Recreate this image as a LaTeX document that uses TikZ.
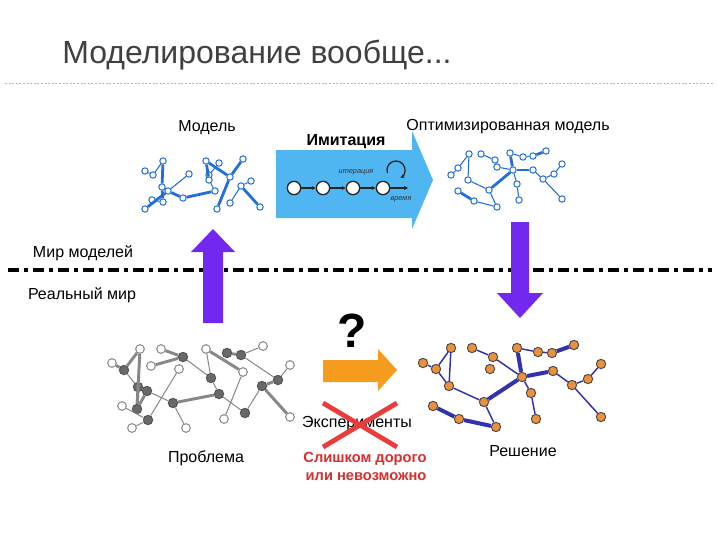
\documentclass[tikz,border=0pt]{standalone}
\usepackage{fontspec}
\setmainfont{Liberation Sans}
\usetikzlibrary{arrows.meta}
\definecolor{mblue}{RGB}{35,110,215}
\definecolor{abl}{RGB}{80,182,242}
\definecolor{purp}{RGB}{115,40,240}
\definecolor{orng}{RGB}{245,155,30}
\definecolor{xred}{RGB}{235,60,60}
\definecolor{tred}{RGB}{215,45,45}
\definecolor{pgray}{RGB}{135,135,135}
\definecolor{pdark}{RGB}{105,105,105}
\definecolor{sblue}{RGB}{50,50,175}
\definecolor{sorng}{RGB}{235,145,60}
\definecolor{ttl}{RGB}{64,64,64}
\begin{document}
\begin{tikzpicture}[x=0.75pt,y=-0.75pt,
 mnode/.style={circle,draw=mblue,fill=white,line width=0.75pt,inner sep=0pt,minimum size=4.8pt},
 medge/.style={draw=mblue,line width=0.8pt},
 mthick/.style={draw=mblue,line width=2.1pt},
 ponode/.style={circle,draw=pgray,fill=white,line width=0.75pt,inner sep=0pt,minimum size=6.5pt},
 pfnode/.style={circle,draw=pdark!80!black,fill=pdark,line width=0.75pt,inner sep=0pt,minimum size=7pt},
 pedge/.style={draw=pgray,line width=0.75pt},
 pthick/.style={draw=pgray,line width=2.2pt},
 snode/.style={circle,draw=black!70,fill=sorng,line width=0.75pt,inner sep=0pt,minimum size=7pt},
 sedge/.style={draw=sblue,line width=1.1pt},
 sthick/.style={draw=sblue,line width=3pt},
 lbl/.style={font=\fontsize{12}{14}\selectfont,inner sep=0pt},
 tnode/.style={circle,draw=black!85,fill=white,line width=1pt,inner sep=0pt,minimum size=10pt},
 tarrow/.style={draw=black!85,line width=1pt,-{Stealth[length=3pt,width=3pt]}},
 tiny/.style={font=\fontsize{5.5}{6.5}\selectfont\itshape,text=black!80,inner sep=0pt}
]
\useasboundingbox (0,0) rectangle (718,539);
\fill[white] (0,0) rectangle (718,539);

% title
\node[anchor=west,text=ttl,font=\fontsize{24}{28}\selectfont,inner sep=0pt] (title) at (62,55) {Моделирование вообще...};
\draw[pgray!60,line width=0.5pt,dash pattern=on 1.5pt off 1.2pt] (5,83) -- (713,83);

% dash-dot separator
\draw[black,line width=3pt,dash pattern=on 8.25pt off 3.75pt on 3pt off 3.75pt] (8,270) -- (712,270);
\node[lbl] (mir) at (83,253) {Мир моделей};
\node[lbl] (real) at (82,295) {Реальный мир};

% blue simulation arrow
\fill[abl] (276,150) -- (412,150) -- (412,131) -- (433,180) -- (412,229) -- (412,218) -- (276,218) -- cycle;
\node[font=\bfseries\fontsize{12}{14}\selectfont,inner sep=0pt] (imit) at (346,142) {Имитация};
\foreach \n/\x in {1/294,2/323,3/353,4/383} \node[tnode] (t\n) at (\x,188) {};
\coordinate (tend) at (408,188);
\draw[tarrow] (t1) -- (t2);
\draw[tarrow] (t2) -- (t3);
\draw[tarrow] (t3) -- (t4);
\draw[tarrow] (t4) -- (tend);
\node[tiny] (iter) at (356,172) {итерация};
\node[tiny] (time) at (401,199) {время};
\coordinate (loopc) at (396,170);
\draw[draw=black!85,line width=1pt,-{Stealth[length=3pt,width=3pt]}] (loopc) ++(160:9) arc[start angle=160,end angle=420,radius=9];

% purple arrows
\fill[purp] (203,323) -- (203,252) -- (191,252) -- (213,229) -- (235,252) -- (223,252) -- (223,323) -- cycle;
\fill[purp] (511,222) -- (529,222) -- (529,293) -- (543,293) -- (520,318) -- (497,293) -- (511,293) -- cycle;

% orange arrow and question
\fill[orng] (323,360) -- (378,360) -- (378,349) -- (397,370) -- (378,391) -- (378,382) -- (323,382) -- cycle;
\node[font=\bfseries\fontsize{36}{40}\selectfont,inner sep=0pt] (q) at (352,331) {?};

% experiments crossed
\node[lbl] (exp) at (357,424) {Эксперименты};
\draw[xred,line width=3.6pt] (323,403) -- (397,447);
\draw[xred,line width=3.6pt] (397,403) -- (323,447);
\node[font=\bfseries\fontsize{11}{13}\selectfont,text=tred,inner sep=0pt] (exp1) at (365,459) {Слишком дорого};
\node[font=\bfseries\fontsize{11}{13}\selectfont,text=tred,inner sep=0pt] (exp2) at (366,477) {или невозможно};

% labels
\node[lbl] (lm) at (207,128) {Модель};
\node[lbl] (lo) at (508,127) {Оптимизированная модель};
\node[lbl] (lp) at (206,458) {Проблема};
\node[lbl] (ls) at (523,451) {Решение};

% model graph
\foreach \n/\x/\y in {1/145/171,2/153/175,3/163/161,4/162/187,5/168/191,6/189/174,7/183/198,8/163/202,9/152/200,10/145/209,11/206/161,12/219/163,13/243/159,14/209/175,15/209/180,16/230/177,17/215/191,18/217/209,19/241/186,20/251/181,21/230/203,22/260/207}
  \node[mnode] (m\n) at (\x,\y) {};
\foreach \a/\b in {1/2,2/3,5/6,9/8,12/14,15/17,19/20,19/21}
  \draw[medge] (m\a) -- (m\b);
\foreach \a/\b in {3/4,4/8,4/5,5/7,7/17,10/5,11/15,11/16,13/16,16/18,19/22}
  \draw[mthick] (m\a) -- (m\b);

% optimized graph
\foreach \n/\x/\y in {1/469/154,2/481/154,3/495/160,4/510/153,5/523/157,6/533/156,7/546/151,8/458/168,9/451/175,10/497/167,11/513/170,12/533/170,13/562/164,14/554/174,15/543/179,16/468/180,17/489/190,18/517/184,19/519/200,20/458/191,21/474/201,22/497/207,23/562/199}
  \node[mnode] (o\n) at (\x,\y) {};
\foreach \a/\b in {1/8,1/16,8/9,16/17,2/3,3/10,10/11,4/5,5/6,12/15,15/14,14/13,15/23,11/18,18/19,17/22,21/22}
  \draw[medge] (o\a) -- (o\b);
\foreach \a/\b in {4/11,6/7,11/12,11/17,20/21}
  \draw[mthick] (o\a) -- (o\b);

% problem graph
\foreach \n/\x/\y in {1/112/363,2/140/349,3/161/349,4/151/366,5/179/369,6/206/349,7/263/346,8/243/372,9/290/365,10/122/406,11/132/428,12/186/428,13/224/419,14/290/417}
  \node[ponode] (a\n) at (\x,\y) {};
\foreach \n/\x/\y in {1/124/370,2/138/387,3/147/391,4/137/409,5/148/420,6/173/403,7/183/357,8/211/378,9/227/353,10/241/355,11/219/394,12/245/413,13/262/386,14/278/380}
  \node[pfnode] (b\n) at (\x,\y) {};
\foreach \a/\b in {b1/b2,b3/b6,b7/b8,a6/b8,b10/a7,a8/a13,b8/b11,b6/a12,a5/b5,a10/b5,a11/b5,b11/b12,b12/b13,b14/a9,b10/b14}
  \draw[pedge] (\a) -- (\b);
\foreach \a/\b in {a1/b1,b1/a2,a2/b4,b2/b4,b3/b4,a3/b7,a4/b7,a6/a8,b9/b10,b11/b6,b13/a14,b13/b14}
  \draw[pthick] (\a) -- (\b);

% solution graph
\foreach \n/\x/\y in {1/423/363,2/436/369,3/451/348,4/449/386,5/472/348,6/493/357,7/490/369,8/484/402,9/433/406,10/459/419,11/496/427,12/517/348,13/538/352,14/552/353,15/574/345,16/522/377,17/553/371,18/531/393,19/536/419,20/572/385,21/588/379,22/601/364,23/601/417}
  \node[snode] (s\n) at (\x,\y) {};
\foreach \a/\b in {1/2,2/3,3/4,2/4,4/8,5/6,6/16,12/13,13/14,17/20,20/21,21/22,20/23,16/18,18/19,8/11}
  \draw[sedge] (s\a) -- (s\b);
\foreach \a/\b in {12/16,14/15,16/17,16/8,9/10,10/11}
  \draw[sthick] (s\a) -- (s\b);
\end{tikzpicture}
\end{document}
